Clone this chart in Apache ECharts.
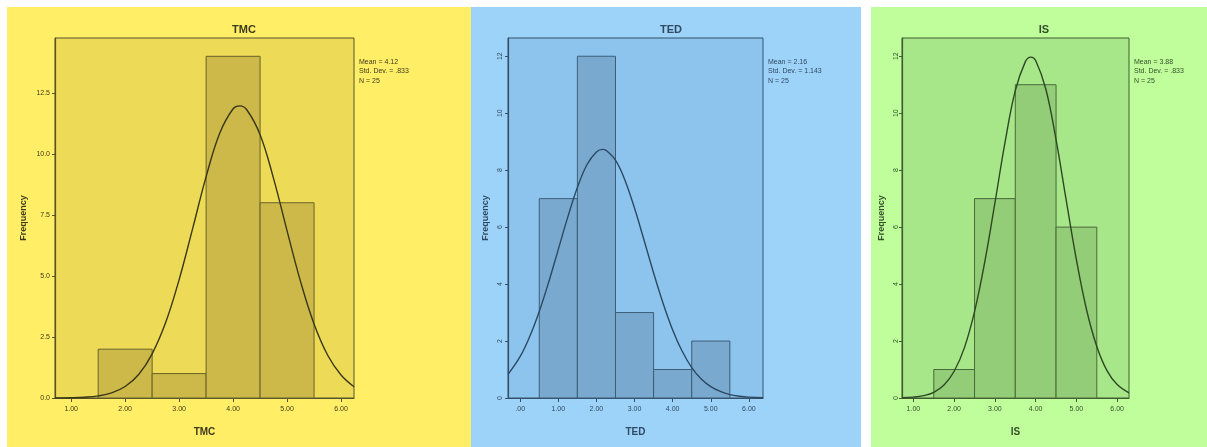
<!DOCTYPE html>
<html><head><meta charset="utf-8">
<script src="https://cdn.jsdelivr.net/npm/echarts@6/dist/echarts.min.js"></script>
<style>
html,body{margin:0;padding:0;background:#fff;}
#wrap{position:relative;width:1207px;height:447px;overflow:hidden;}
.bg{position:absolute;}
#chart{position:absolute;left:0;top:0;width:1207px;height:447px;}
</style></head>
<body><div id="wrap">
<div class="bg" style="left:7px;top:7px;width:464px;height:440px;background:#FFEE66"></div>
<div class="bg" style="left:471px;top:7px;width:390px;height:440px;background:#9ED3F9"></div>
<div class="bg" style="left:871px;top:7px;width:336px;height:440px;background:#BFFE9B"></div>
<div id="chart"></div></div>
<script>
// ---- data ----
const titles = ['TMC', 'TED', 'IS'];
// bins: [from, to, frequency]
const tmcBins = [[1.5, 2.5, 2], [2.5, 3.5, 1], [3.5, 4.5, 14], [4.5, 5.5, 8]];
const tedBins = [[0.5, 1.5, 7], [1.5, 2.5, 12], [2.5, 3.5, 3], [3.5, 4.5, 1], [4.5, 5.5, 2]];
const isBins  = [[1.5, 2.5, 1], [2.5, 3.5, 7], [3.5, 4.5, 11], [4.5, 5.5, 6]];
// normal curve points: [x, frequency]
const tmcCurve = [[0.7,0.003],[1.0,0.011],[1.25,0.032],[1.5,0.085],[1.75,0.21],[2.0,0.47],[2.25,0.96],[2.5,1.81],[2.75,3.09],[3.0,4.85],[3.25,6.94],[3.5,9.07],[3.75,10.84],[4.0,11.85],[4.12,11.97],[4.25,11.82],[4.5,10.79],[4.75,8.99],[5.0,6.85],[5.25,4.77],[5.5,3.03],[5.75,1.76],[6.0,0.94],[6.24,0.46]];
const tedCurve = [[-0.32,0.83],[0.0,1.46],[0.25,2.16],[0.5,3.04],[0.75,4.08],[1.0,5.22],[1.25,6.36],[1.5,7.39],[1.75,8.19],[2.0,8.64],[2.16,8.73],[2.25,8.70],[2.5,8.35],[2.75,7.64],[3.0,6.66],[3.25,5.54],[3.5,4.39],[3.75,3.32],[4.0,2.39],[4.25,1.64],[4.5,1.07],[4.75,0.67],[5.0,0.40],[5.25,0.23],[5.5,0.12],[5.75,0.063],[6.0,0.031],[6.37,0.011]];
const isCurve  = [[0.72,0.009],[1.0,0.030],[1.25,0.082],[1.5,0.20],[1.75,0.455],[2.0,0.94],[2.25,1.76],[2.5,3.03],[2.75,4.77],[3.0,6.85],[3.25,8.99],[3.5,10.79],[3.75,11.82],[3.88,11.97],[4.0,11.85],[4.25,10.84],[4.5,9.07],[4.75,6.94],[5.0,4.85],[5.25,3.09],[5.5,1.81],[5.75,0.96],[6.0,0.47],[6.29,0.18]];
const tmcStats = ['Mean = 4.12', 'Std. Dev. = .833', 'N = 25'];
const tedStats = ['Mean = 2.16', 'Std. Dev. = 1.143', 'N = 25'];
const isStats  = ['Mean = 3.88', 'Std. Dev. = .833', 'N = 25'];
const tmcXTicks = [1, 2, 3, 4, 5, 6];
const tedXTicks = [0, 1, 2, 3, 4, 5, 6];
const isXTicks  = [1, 2, 3, 4, 5, 6];
const tmcYTicks = [0, 2.5, 5, 7.5, 10, 12.5];
const tedYTicks = [0, 2, 4, 6, 8, 10, 12];
const isYTicks  = [0, 2, 4, 6, 8, 10, 12];
const xRanges = [[0.7, 6.24], [-0.32, 6.37], [0.72, 6.29]];
const yMax = [14.75, 12.64, 12.64];

// ---- layout & style ----
const FONT = "'Liberation Sans Narrow','Liberation Sans',Arial,sans-serif";
const panels = [
  {bins: tmcBins, curve: tmcCurve, stats: tmcStats, xt: tmcXTicks, yt: tmcYTicks, yDec: 1, yRot: 0, gap: 27, lm: 5,
   grid: {left: 55, top: 38, width: 299, height: 360}, cx: 239,
   plot: '#EDDB57', bar: '#CCB94A', stroke: '#6a6228', line: '#3a3716', axis: '#57522c', text: '#3d3a1c'},
  {bins: tedBins, curve: tedCurve, stats: tedStats, xt: tedXTicks, yt: tedYTicks, yDec: 0, yRot: 90, gap: 18, lm: 4,
   grid: {left: 508, top: 38, width: 255, height: 360}, cx: 666,
   plot: '#8DC4EE', bar: '#79A9CF', stroke: '#3d5d77', line: '#2c4962', axis: '#34506a', text: '#2f4a62'},
  {bins: isBins, curve: isCurve, stats: isStats, xt: isXTicks, yt: isYTicks, yDec: 0, yRot: 90, gap: 16, lm: 2,
   grid: {left: 902, top: 38, width: 227, height: 360}, cx: 1039,
   plot: '#A8E68A', bar: '#93CD77', stroke: '#4a6a39', line: '#2d4823', axis: '#3f5c32', text: '#34502a'}
];

const option = {
  animation: false,
  backgroundColor: 'transparent',
  title: [], grid: [], xAxis: [], yAxis: [], series: [], graphic: []
};

panels.forEach((p, i) => {
  option.title.push({text: titles[i], left: p.cx, top: 19, textAlign: 'center',
    textStyle: {fontFamily: FONT, fontSize: 11, fontWeight: 'bold', color: p.text}});
  option.grid.push(Object.assign({show: true, backgroundColor: p.plot, borderColor: p.axis, borderWidth: 1, containLabel: false}, p.grid));
  option.xAxis.push({
    type: 'value', gridIndex: i, min: xRanges[i][0], max: xRanges[i][1],
    name: titles[i], nameLocation: 'middle', nameGap: 29,
    nameTextStyle: {fontFamily: FONT, fontSize: 10, fontWeight: 'bold', color: p.text},
    axisLine: {show: true, onZero: false, lineStyle: {color: p.axis, width: 1.2}},
    axisTick: {show: true, length: 4, customValues: p.xt, lineStyle: {color: p.axis}},
    axisLabel: {customValues: p.xt, fontFamily: FONT, fontSize: 7, color: p.text, margin: 8,
      formatter: v => (v === 0 ? '.00' : v.toFixed(2))},
    splitLine: {show: false}
  });
  option.yAxis.push({
    type: 'value', gridIndex: i, min: 0, max: yMax[i],
    name: 'Frequency', nameLocation: 'middle', nameRotate: 90, nameGap: p.gap,
    nameTextStyle: {fontFamily: FONT, fontSize: 9, fontWeight: 'bold', color: p.text},
    axisLine: {show: true, onZero: false, lineStyle: {color: p.axis, width: 1.2}},
    axisTick: {show: true, length: 3, customValues: p.yt, lineStyle: {color: p.axis}},
    axisLabel: {customValues: p.yt, fontFamily: FONT, fontSize: 7, color: p.text, margin: p.lm, rotate: p.yRot,
      formatter: v => v.toFixed(p.yDec)},
    splitLine: {show: false}
  });
  option.series.push({
    type: 'custom', xAxisIndex: i, yAxisIndex: i, data: p.bins,
    encode: {x: [0, 1], y: 2},
    renderItem: (params, api) => {
      const a = api.coord([api.value(0), 0]);
      const b = api.coord([api.value(1), api.value(2)]);
      return {type: 'rect', shape: {x: a[0], y: b[1], width: b[0] - a[0], height: a[1] - b[1]},
        style: {fill: p.bar, stroke: p.stroke, lineWidth: 1}};
    }
  });
  option.series.push({
    type: 'line', xAxisIndex: i, yAxisIndex: i, data: p.curve, smooth: 0.4,
    showSymbol: false, clip: true, lineStyle: {color: p.line, width: 1.4}, z: 5
  });
  option.graphic.push({type: 'text', left: p.grid.left + p.grid.width + 5, top: 57,
    style: {text: p.stats.join('\n'), fontFamily: FONT, fontSize: 7, lineHeight: 9.5, fill: p.text}});
});

const chart = echarts.init(document.getElementById('chart'), null, {renderer: 'canvas'});
chart.setOption(option);
</script></body></html>
